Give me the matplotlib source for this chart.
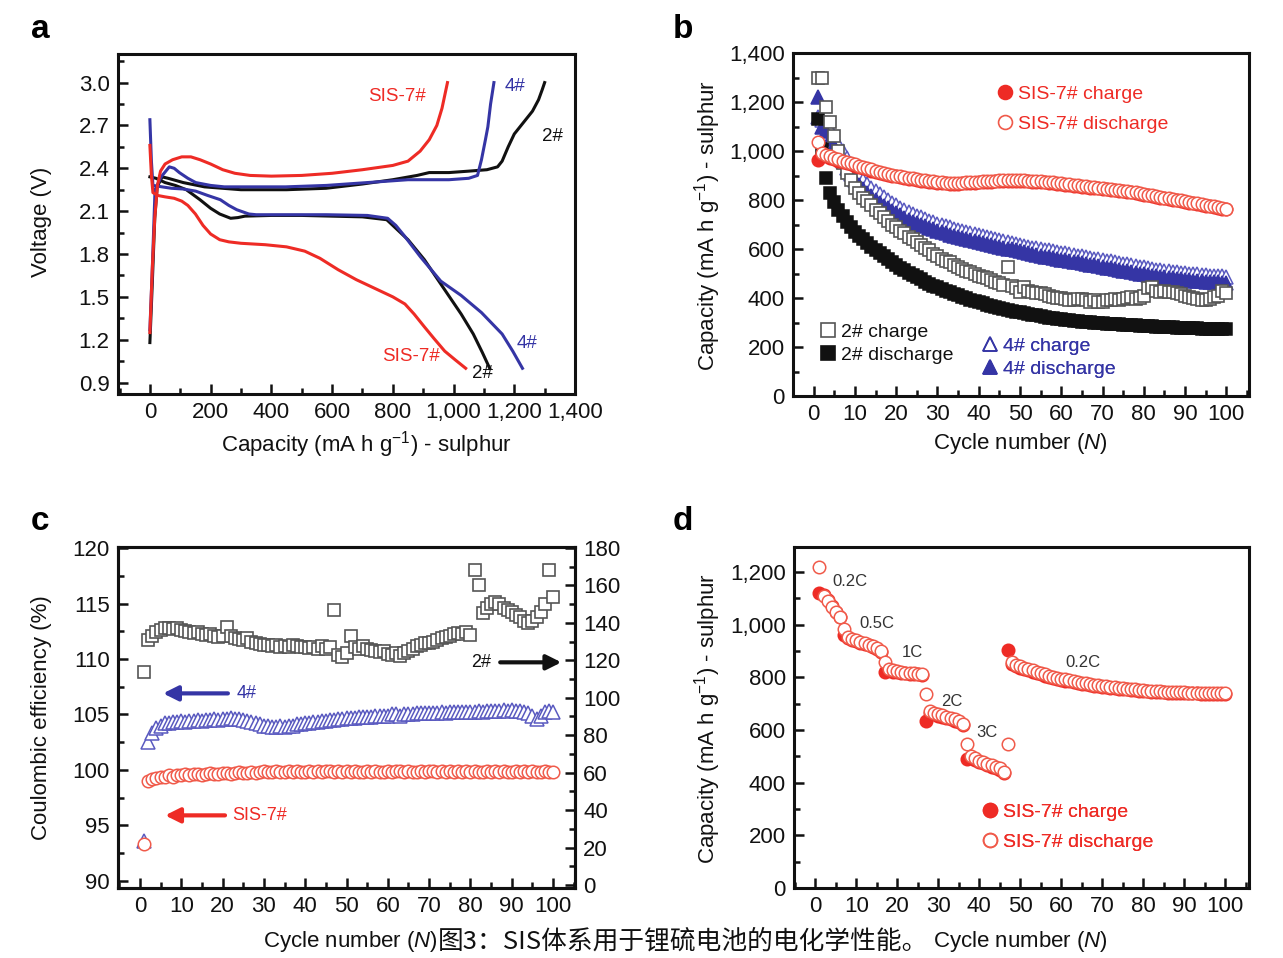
import matplotlib
matplotlib.use('Agg')
import matplotlib.pyplot as plt
from matplotlib.ticker import MultipleLocator, FuncFormatter
from matplotlib.lines import Line2D

plt.rcParams['font.family'] = ['Liberation Sans', 'DejaVu Sans']
plt.rcParams['mathtext.fontset'] = 'custom'
plt.rcParams['mathtext.rm'] = 'Liberation Sans'
plt.rcParams['mathtext.it'] = 'Liberation Sans:italic'
plt.rcParams['mathtext.default'] = 'regular'

RED = '#ee2b25'
PINK = '#f05a4a'
BLUE = '#3535a5'
BLACK = '#111111'
GREY = '#555555'

# ---- panel a: voltage profiles (x = capacity, y = voltage)
red_chg_x = [0, 8, 16, 25, 35, 50, 75, 105, 135, 165, 200, 240, 280, 330, 400, 500, 600, 700, 800, 850, 890, 920, 945, 962, 975, 980]
red_chg_y = [1.25, 1.7, 2.05, 2.28, 2.38, 2.43, 2.46, 2.48, 2.48, 2.46, 2.43, 2.39, 2.365, 2.35, 2.345, 2.35, 2.365, 2.39, 2.42, 2.45, 2.52, 2.60, 2.70, 2.82, 2.95, 3.0]
red_dis_x = [0, 5, 10, 25, 50, 80, 105, 125, 150, 175, 200, 230, 260, 300, 380, 450, 510, 560, 620, 680, 740, 800, 840, 870, 904, 935, 971, 1005, 1040]
red_dis_y = [2.56, 2.35, 2.23, 2.21, 2.20, 2.19, 2.17, 2.14, 2.08, 2.00, 1.94, 1.90, 1.885, 1.875, 1.865, 1.85, 1.82, 1.77, 1.69, 1.62, 1.56, 1.50, 1.45, 1.38, 1.29, 1.21, 1.12, 1.06, 1.0]
blk_chg_x = [0, 8, 16, 24, 40, 60, 110, 180, 300, 450, 580, 700, 800, 880, 920, 985, 1050, 1110, 1145, 1160, 1180, 1200, 1230, 1260, 1280, 1292, 1300]
blk_chg_y = [1.18, 1.6, 2.05, 2.27, 2.34, 2.33, 2.30, 2.27, 2.25, 2.25, 2.26, 2.29, 2.32, 2.35, 2.37, 2.37, 2.38, 2.39, 2.41, 2.45, 2.55, 2.64, 2.72, 2.80, 2.88, 2.95, 3.0]
blk_dis_x = [0, 20, 50, 84, 120, 165, 200, 230, 266, 290, 313, 400, 500, 600, 700, 780, 815, 850, 904, 958, 1025, 1065, 1095, 1119]
blk_dis_y = [2.34, 2.33, 2.30, 2.28, 2.25, 2.18, 2.12, 2.08, 2.05, 2.055, 2.065, 2.07, 2.07, 2.065, 2.06, 2.04, 1.97, 1.90, 1.76, 1.59, 1.38, 1.24, 1.11, 1.0]
blu_chg_x = [0, 8, 17, 37, 64, 80, 97, 125, 151, 200, 245, 350, 447, 581, 716, 850, 985, 1050, 1079, 1092, 1105, 1113, 1122, 1133]
blu_chg_y = [1.27, 1.7, 2.25, 2.34, 2.41, 2.40, 2.37, 2.33, 2.30, 2.28, 2.27, 2.27, 2.27, 2.28, 2.30, 2.32, 2.32, 2.33, 2.35, 2.46, 2.60, 2.69, 2.85, 3.0]
blu_dis_x = [0, 5, 10, 40, 71, 110, 151, 190, 232, 260, 286, 326, 350, 447, 581, 716, 783, 810, 837, 891, 958, 1025, 1092, 1160, 1195, 1227]
blu_dis_y = [2.74, 2.45, 2.28, 2.27, 2.26, 2.255, 2.24, 2.21, 2.18, 2.14, 2.11, 2.08, 2.075, 2.075, 2.075, 2.07, 2.05, 2.00, 1.93, 1.78, 1.61, 1.51, 1.39, 1.24, 1.12, 1.0]

# ---- panel b: cycling capacity
cycles = list(range(1, 101))
sis_dis = [1035, 990, 985, 978, 972, 966, 960, 955, 950, 945,
           940, 935, 930, 925, 920, 916, 912, 908, 904, 900,
           897, 894, 891, 888, 885, 882, 880, 878, 876, 874,
           872, 871, 870, 870, 870, 871, 872, 873, 874, 875,
           876, 877, 878, 879, 880, 880, 881, 881, 881, 880,
           880, 879, 878, 877, 876, 875, 874, 872, 870, 868,
           866, 864, 862, 860, 858, 856, 854, 852, 850, 848,
           846, 844, 842, 840, 838, 836, 834, 831, 828, 825,
           822, 819, 816, 813, 810, 807, 804, 801, 798, 795,
           792, 789, 786, 783, 780, 777, 774, 771, 768, 765]
sis_chg = [965, 980, 978, 972, 966, 960, 955, 950, 945, 940,
           935, 930, 925, 920, 916, 912, 908, 904, 900, 896,
           893, 890, 887, 884, 881, 879, 877, 875, 873, 871,
           869, 868, 867, 867, 867, 868, 869, 870, 871, 872,
           873, 874, 875, 876, 877, 877, 878, 878, 878, 877,
           877, 876, 875, 874, 873, 872, 871, 869, 867, 865,
           863, 861, 859, 857, 855, 853, 851, 849, 847, 845,
           843, 841, 839, 837, 835, 833, 831, 828, 825, 822,
           819, 816, 813, 810, 807, 804, 801, 798, 795, 792,
           789, 786, 783, 780, 777, 774, 771, 768, 765, 762]
s2_chg = [1300, 1300, 1180, 1120, 1060, 1000, 950, 910, 880, 850,
          830, 810, 795, 780, 760, 745, 730, 715, 700, 690,
          675, 665, 650, 640, 630, 615, 605, 595, 580, 570,
          560, 550, 545, 535, 525, 520, 510, 505, 500, 490,
          485, 480, 475, 465, 460, 455, 525, 450, 440, 425,
          445, 430, 425, 420, 420, 415, 410, 405, 400, 400,
          395, 390, 390, 395, 395, 390, 385, 390, 385, 385,
          390, 390, 395, 390, 395, 400, 405, 395, 400, 410,
          440, 445, 430, 425, 430, 425, 425, 420, 415, 410,
          405, 400, 395, 390, 390, 395, 405, 410, 430, 420]
s2_dis = [1130, 1010, 890, 830, 790, 760, 735, 710, 690, 670,
          655, 640, 625, 610, 595, 583, 570, 558, 546, 535,
          524, 513, 503, 494, 485, 476, 467, 459, 451, 444,
          437, 430, 423, 417, 411, 405, 399, 393, 388, 383,
          378, 373, 368, 364, 360, 356, 352, 348, 344, 341,
          338, 335, 332, 329, 326, 323, 320, 318, 316, 314,
          312, 310, 308, 306, 304, 302, 301, 300, 298, 296,
          295, 294, 293, 292, 291, 290, 289, 288, 287, 286,
          285, 284, 283, 282, 281, 280, 280, 279, 278, 277,
          277, 276, 276, 275, 275, 274, 274, 273, 273, 272]
s4_dis = [1220, 1100, 1080, 1050, 1020, 990, 960, 930, 905, 880,
          862, 846, 830, 816, 802, 789, 777, 766, 756, 746,
          737, 728, 720, 712, 705, 698, 692, 686, 680, 674,
          669, 664, 659, 654, 650, 646, 642, 638, 634, 630,
          626, 622, 618, 614, 610, 606, 602, 598, 594, 590,
          586, 582, 578, 575, 572, 569, 566, 563, 560, 557,
          554, 551, 548, 545, 542, 539, 536, 533, 530, 527,
          524, 521, 518, 515, 512, 509, 506, 503, 500, 497,
          494, 491, 489, 487, 485, 483, 481, 479, 477, 475,
          473, 471, 469, 468, 467, 466, 465, 464, 463, 462]
s4_chg = [1140, 1125, 1110, 1090, 1060, 1030, 1000, 970, 945, 920,
          900, 883, 866, 851, 837, 823, 811, 800, 789, 779,
          769, 760, 752, 744, 736, 729, 722, 716, 710, 704,
          698, 693, 688, 683, 678, 674, 670, 666, 662, 658,
          654, 650, 646, 642, 638, 634, 630, 626, 622, 618,
          614, 610, 606, 603, 600, 597, 594, 591, 588, 585,
          582, 579, 576, 573, 570, 567, 564, 561, 558, 555,
          552, 549, 546, 543, 540, 537, 534, 531, 528, 525,
          522, 519, 516, 514, 512, 510, 508, 506, 504, 502,
          500, 498, 496, 494, 492, 491, 490, 489, 488, 487]

# ---- panel c: coulombic efficiency
ce_sis = [93.3, 99.0, 99.2, 99.3, 99.4, 99.4, 99.5, 99.4, 99.5, 99.5,
          99.6, 99.5, 99.6, 99.6, 99.5, 99.6, 99.7, 99.6, 99.6, 99.7,
          99.7, 99.6, 99.7, 99.8, 99.7, 99.7, 99.8, 99.7, 99.8, 99.9,
          99.8, 99.8, 99.9, 99.8, 99.8, 99.9, 99.8, 99.9, 99.8, 99.8,
          99.9, 99.8, 99.9, 99.8, 99.9, 99.9, 99.8, 99.9, 99.8, 99.9,
          99.8, 99.9, 99.8, 99.8, 99.9, 99.8, 99.9, 99.8, 99.8, 99.9,
          99.8, 99.9, 99.9, 99.8, 99.9, 99.8, 99.8, 99.9, 99.8, 99.9,
          99.9, 99.8, 99.9, 99.8, 99.9, 99.8, 99.9, 99.8, 99.9, 99.8,
          99.9, 99.8, 99.8, 99.9, 99.8, 99.9, 99.8, 99.9, 99.8, 99.8,
          99.9, 99.8, 99.9, 99.8, 99.9, 99.8, 99.8, 99.9, 99.8, 99.8]
ce_4 = [93.6, 102.5, 103.3, 103.8, 104.0, 104.2, 104.2, 104.3, 104.3, 104.4,
        104.3, 104.4, 104.4, 104.5, 104.4, 104.5, 104.5, 104.6, 104.5, 104.6,
        104.6, 104.7, 104.6, 104.6, 104.5, 104.4, 104.3, 104.2, 104.1, 104.0,
        104.0, 103.9, 103.9, 104.0, 103.9, 104.0, 104.0, 104.1, 104.1, 104.2,
        104.2, 104.3, 104.3, 104.4, 104.4, 104.5, 104.5, 104.6, 104.6, 104.7,
        104.7, 104.7, 104.8, 104.8, 104.8, 104.8, 104.9, 104.9, 104.9, 104.9,
        105.0, 105.0, 104.9, 105.0, 105.0, 105.0, 105.1, 105.1, 105.1, 105.1,
        105.1, 105.1, 105.2, 105.1, 105.2, 105.2, 105.2, 105.2, 105.2, 105.2,
        105.2, 105.3, 105.2, 105.3, 105.3, 105.3, 105.3, 105.4, 105.3, 105.4,
        105.3, 105.3, 105.2, 105.1, 104.9, 104.6, 104.9, 105.2, 105.3, 105.2]
ce_2 = [114, 131, 133, 135, 136, 137, 137, 136.5, 137, 136,
        135.5, 135, 134.5, 135, 134, 133.5, 134, 133, 132.5, 133,
        138, 133, 132, 131.5, 131, 132, 130, 129.5, 128.5, 128,
        128, 127.5, 128, 127, 127.5, 127, 128, 127.5, 127, 127,
        126.5, 127, 126, 127.5, 126, 127, 147, 123, 121.5, 124,
        133, 127, 126, 127.5, 126, 125.5, 125, 124.5, 125, 123.5,
        123, 124, 122.5, 124, 125, 126, 127.5, 128, 129, 129.5,
        130, 131, 132, 132.5, 133, 134, 134.5, 134, 135, 133.5,
        168, 160, 145, 148, 150, 151, 150, 148, 147, 146,
        144, 143, 141, 140, 141, 143, 146, 150, 168, 154]

# ---- panel d: rate capability
rate_dis = [1220, 1110, 1090, 1068, 1048, 1028, 985, 955, 945, 940,
            935, 930, 924, 918, 912, 900, 858, 832, 826, 823,
            820, 818, 817, 815, 814, 812, 738, 672, 666, 661,
            656, 651, 646, 641, 636, 624, 545, 502, 492, 484,
            478, 472, 466, 461, 455, 442, 548, 858, 848, 842,
            836, 831, 826, 821, 816, 811, 807, 803, 799, 795,
            792, 789, 786, 783, 780, 777, 775, 772, 770, 768,
            766, 764, 762, 760, 758, 757, 755, 754, 752, 751,
            750, 749, 748, 747, 746, 745, 744, 744, 743, 743,
            742, 742, 742, 741, 741, 741, 740, 740, 740, 740]
rate_chg = [1120, 1112, 1092, 1070, 1050, 1030, 960, 950, 942, 937,
            932, 927, 921, 915, 909, 896, 820, 826, 822, 820,
            817, 815, 814, 812, 811, 809, 635, 665, 660, 655,
            650, 645, 640, 636, 631, 620, 490, 495, 486, 479,
            473, 467, 461, 456, 450, 438, 905, 850, 842, 836,
            831, 826, 821, 816, 812, 807, 803, 799, 795, 791,
            788, 785, 782, 779, 776, 774, 771, 769, 767, 765,
            763, 761, 759, 757, 755, 754, 752, 751, 749, 748,
            747, 746, 745, 744, 743, 742, 741, 741, 740, 740,
            739, 739, 739, 738, 738, 738, 737, 737, 737, 737]
rate_labels = ['0.2C', '0.5C', '1C', '2C', '3C', '0.2C']
rate_label_x = [8.4, 14.9, 23.8, 33.4, 41.9, 65.2]
rate_label_y = [1163, 1005, 896, 710, 592, 858]


W, H = 1283, 958
fig = plt.figure(figsize=(W / 100, H / 100), dpi=100)


def box(l, t, r, b):
    return [l / W, 1 - b / H, (r - l) / W, (b - t) / H]


comma = FuncFormatter(lambda v, p: f'{v:,.0f}')


def style(ax, right=False):
    for s in ax.spines.values():
        s.set_linewidth(2.2)
        s.set_color(BLACK)
    ax.tick_params(which='both', direction='in', top=False, right=right,
                   left=not right, width=1.8, labelsize=16, colors=BLACK, pad=6)
    ax.tick_params(which='major', length=7)
    ax.tick_params(which='minor', length=4)


lab_kw = dict(fontsize=16, color=BLACK, ha='center', va='center')
ylab_a = 'Capacity (mA h g$^{-1}$) - sulphur'
xlab_c = 'Cycle number ($\\mathit{N}$)'
ms = 9
open_kw = dict(ls='none', ms=ms, mfc='white', mew=1.1)

# ---------- a
ax = fig.add_axes(box(118, 54, 575, 394))
ax.plot(blk_chg_x, blk_chg_y, color=BLACK, lw=2.2)
ax.plot(blk_dis_x, blk_dis_y, color=BLACK, lw=2.2)
ax.plot(blu_chg_x, blu_chg_y, color=BLUE, lw=2.2)
ax.plot(blu_dis_x, blu_dis_y, color=BLUE, lw=2.2)
ax.plot(red_chg_x, red_chg_y, color=RED, lw=2.2)
ax.plot(red_dis_x, red_dis_y, color=RED, lw=2.2)
ax.set_xlim(-105, 1400)
ax.set_ylim(0.82, 3.2)
ax.xaxis.set_major_locator(MultipleLocator(200))
ax.xaxis.set_minor_locator(MultipleLocator(100))
ax.xaxis.set_major_formatter(comma)
ax.yaxis.set_major_locator(MultipleLocator(0.3))
ax.yaxis.set_minor_locator(MultipleLocator(0.15))
ax.yaxis.set_major_formatter(FuncFormatter(lambda v, p: f'{v:.1f}'))
style(ax)
ax.text(814, 2.90, 'SIS-7#', color=RED, fontsize=13.5, ha='center', va='center')
ax.text(1202, 2.97, '4#', color=BLUE, fontsize=13.5, ha='center', va='center')
ax.text(1327, 2.62, '2#', color=BLACK, fontsize=13.5, ha='center', va='center')
ax.text(860, 1.08, 'SIS-7#', color=RED, fontsize=13.5, ha='center', va='center')
ax.text(1094, 0.96, '2#', color=BLACK, fontsize=13.5, ha='center', va='center')
ax.text(1242, 1.17, '4#', color=BLUE, fontsize=13.5, ha='center', va='center')
fig.text(42 / W, 1 - 222 / H, 'Voltage (V)', rotation=90, **lab_kw)
fig.text(367 / W, 1 - 445 / H, ylab_a, **lab_kw)

# ---------- b
ax = fig.add_axes(box(793, 53, 1249, 396))
ax.plot(cycles, s4_chg, '^', mec='#5a5ac0', **{**open_kw, 'ms': 10})
ax.plot(cycles, s4_dis, '^', color=BLUE, ms=10, mec=BLUE, mew=1.1)
ax.plot(cycles, s2_dis, 's', color=BLACK, ms=ms, mew=1.1)
ax.plot(cycles, s2_chg, 's', mec=GREY, **{**open_kw, 'mew': 1.2})
ax.plot(cycles, sis_chg, 'o', color=RED, ms=ms, mew=1.1)
ax.plot(cycles, sis_dis, 'o', mec=PINK, **open_kw)
ax.set_xlim(-5, 105.5)
ax.set_ylim(0, 1400)
ax.xaxis.set_major_locator(MultipleLocator(10))
ax.xaxis.set_minor_locator(MultipleLocator(5))
ax.yaxis.set_major_locator(MultipleLocator(200))
ax.yaxis.set_minor_locator(MultipleLocator(100))
ax.yaxis.set_major_formatter(comma)
style(ax)


def legend(ax, items, anchor, spacing, color):
    hs = [Line2D([], [], ls='none', marker=m, ms=10, mfc=fc, mec=ec, mew=1.2)
          for m, fc, ec, _ in items]
    lg = ax.legend(hs, [t for *_, t in items], loc='upper left', bbox_to_anchor=anchor,
                   frameon=False, fontsize=14, handlelength=0.8, handletextpad=0.3,
                   borderpad=0, borderaxespad=0, labelspacing=spacing, labelcolor=color)
    ax.add_artist(lg)


legend(ax, [('o', RED, RED, 'SIS-7# charge'), ('o', 'none', PINK, 'SIS-7# discharge')],
       (0.447, 0.907), 0.64, RED)
legend(ax, [('s', 'none', GREY, '2# charge'), ('s', BLACK, BLACK, '2# discharge')],
       (0.059, 0.213), 0.28, BLACK)
legend(ax, [('^', 'none', BLUE, '4# charge'), ('^', BLUE, BLUE, '4# discharge')],
       (0.414, 0.172), 0.28, BLUE)
fig.text(708 / W, 1 - 225 / H, ylab_a, rotation=90, **lab_kw)
fig.text(1020 / W, 1 - 443 / H, xlab_c, **lab_kw)

# ---------- c
ax = fig.add_axes(box(118, 547, 575, 888))
ax2 = ax.twinx()
ax2.plot(cycles, ce_2, 's', mec=GREY, **{**open_kw, 'mew': 1.2})
ax.plot(cycles, ce_4, '^', mec='#5a5ac0', **{**open_kw, 'ms': 10})
ax.plot(cycles, ce_sis, 'o', mec=PINK, **open_kw)
ax.set_xlim(-5.3, 105.3)
ax.set_ylim(89.35, 120.1)
ax2.set_ylim(-1.6, 180.5)
ax.xaxis.set_major_locator(MultipleLocator(10))
ax.xaxis.set_minor_locator(MultipleLocator(5))
ax.yaxis.set_major_locator(MultipleLocator(5))
ax.yaxis.set_minor_locator(MultipleLocator(2.5))
ax2.yaxis.set_major_locator(MultipleLocator(20))
ax2.yaxis.set_minor_locator(MultipleLocator(10))
style(ax)
style(ax2, right=True)
ax2.tick_params(axis='x', bottom=False)
arrow = dict(arrowstyle='-|>', lw=3, mutation_scale=22, shrinkA=0, shrinkB=0)
ax.annotate('', xy=(102, 109.7), xytext=(87.2, 109.7), arrowprops=dict(color=BLACK, **arrow))
ax.annotate('', xy=(5.6, 106.9), xytext=(21.3, 106.9), arrowprops=dict(color=BLUE, **arrow))
ax.annotate('', xy=(6.1, 95.9), xytext=(20.6, 95.9), arrowprops=dict(color=RED, **arrow))
ax.text(82.7, 109.7, '2#', color=BLACK, fontsize=13, ha='center', va='center')
ax.text(23.3, 106.9, '4#', color=BLUE, fontsize=13, ha='left', va='center')
ax.text(22.4, 95.9, 'SIS-7#', color=RED, fontsize=13, ha='left', va='center')
fig.text(42 / W, 1 - 718 / H, 'Coulombic efficiency (%)', rotation=90, **lab_kw)
fig.text(350 / W, 1 - 942 / H, xlab_c, **lab_kw)

# ---------- d
ax = fig.add_axes(box(794, 547, 1249, 888))
ax.plot(cycles, rate_chg, 'o', color=RED, ms=ms, mew=1.1)
ax.plot(cycles, rate_dis, 'o', mec=PINK, **open_kw)
ax.set_xlim(-5.2, 105.8)
ax.set_ylim(0, 1295)
ax.xaxis.set_major_locator(MultipleLocator(10))
ax.xaxis.set_minor_locator(MultipleLocator(5))
ax.yaxis.set_major_locator(MultipleLocator(200))
ax.yaxis.set_minor_locator(MultipleLocator(100))
ax.yaxis.set_major_formatter(comma)
style(ax)
for t, x, y in zip(rate_labels, rate_label_x, rate_label_y):
    ax.text(x, y, t, color='#333333', fontsize=12, ha='center', va='center')
legend(ax, [('o', RED, RED, 'SIS-7# charge'), ('o', 'none', PINK, 'SIS-7# discharge')],
       (0.413, 0.249), 0.64, RED)
fig.text(708 / W, 1 - 718 / H, ylab_a, rotation=90, **lab_kw)
fig.text(1020 / W, 1 - 942 / H, xlab_c, **lab_kw)

# panel letters and caption
for letter, x, y in [('a', 40, 30), ('b', 683, 30), ('c', 40, 522), ('d', 683, 522)]:
    fig.text(x / W, 1 - y / H, letter, fontsize=24, fontweight='bold', ha='center', va='center')
fig.text(683 / W, 1 - 942 / H, '图3：SIS体系用于锂硫电池的电化学性能。',
         family=['Noto Sans CJK SC', 'DejaVu Sans'], fontsize=18.5, color=BLACK,
         ha='center', va='center', bbox=dict(fc='white', ec='none', pad=1))

fig.savefig('out.png', dpi=100)
